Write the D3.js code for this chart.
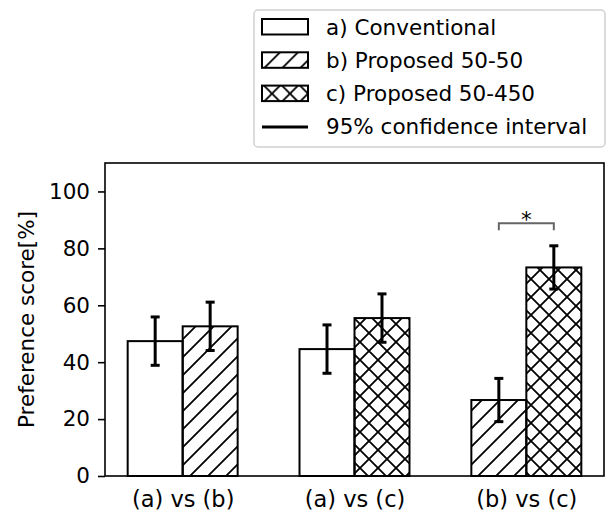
<!DOCTYPE html>
<html>
<head>
<meta charset="utf-8">
<script src="https://cdn.jsdelivr.net/npm/d3@7"></script>
<style>
  body { margin: 0; background: #fff; }
  text { font-family: "DejaVu Sans", sans-serif; }
</style>
</head>
<body>
<svg id="chart" width="608" height="513"></svg>
<script>
// comparisons on the x axis
const groups = ["(a) vs (b)", "(a) vs (c)", "(b) vs (c)"];
// left and right bar of each pair
const leftValues = [47.4, 44.6, 26.7];
const rightValues = [52.6, 55.5, 73.3];
const leftKinds = ["a", "a", "b"];
const rightKinds = ["b", "c", "c"];
// half width of the 95% confidence interval
const ciHalf = [8.5, 8.5, 7.6];
const yTicks = [0, 20, 40, 60, 80, 100];
const legendLabels = ["a) Conventional", "b) Proposed 50-50", "c) Proposed 50-450", "95% confidence interval"];
const legendKinds = ["a", "b", "c", "line"];

const svg = d3.select("#chart");
const margin = { top: 163, right: 4, bottom: 37, left: 105 };
const W = 608, H = 513;
const barW = 0.32;
const fontSize = "21.5px";

const x = d3.scaleLinear().domain([-0.452, 2.452]).range([margin.left, W - margin.right]);
const y = d3.scaleLinear().domain([0, 110]).range([H - margin.bottom, margin.top]);

// hatch patterns
const defs = svg.append("defs");
const diag = defs.append("pattern")
    .attr("id", "hatch-b")
    .attr("patternUnits", "userSpaceOnUse")
    .attr("width", 18).attr("height", 18);
diag.append("path")
    .attr("d", "M-2,20 L20,-2 M-9,9 L9,-9 M9,27 L27,9")
    .attr("stroke", "#000").attr("stroke-width", 1.8);

const cross = defs.append("pattern")
    .attr("id", "hatch-c")
    .attr("patternUnits", "userSpaceOnUse")
    .attr("width", 18).attr("height", 18);
cross.append("path")
    .attr("d", "M-2,20 L20,-2 M-9,9 L9,-9 M9,27 L27,9 M-2,-2 L20,20 M-9,9 L9,27 M9,-9 L27,9")
    .attr("stroke", "#000").attr("stroke-width", 1.8);

const fillFor = k => k === "a" ? "#fff" : `url(#hatch-${k})`;

// bars
const bars = [];
groups.forEach((g, i) => {
    bars.push({ pos: i - barW / 2, value: leftValues[i], kind: leftKinds[i], ci: ciHalf[i] });
    bars.push({ pos: i + barW / 2, value: rightValues[i], kind: rightKinds[i], ci: ciHalf[i] });
});

svg.selectAll("rect.bar")
    .data(bars)
    .enter()
    .append("rect")
    .attr("class", "bar")
    .attr("x", d => x(d.pos - barW / 2))
    .attr("y", d => y(d.value))
    .attr("width", d => x(d.pos + barW / 2) - x(d.pos - barW / 2))
    .attr("height", d => y(0) - y(d.value))
    .attr("fill", d => fillFor(d.kind))
    .attr("stroke", "#000")
    .attr("stroke-width", 2);

// error bars
const capHalf = 4.5;
const err = svg.selectAll("g.err").data(bars).enter().append("g").attr("class", "err");
err.append("line")
    .attr("x1", d => x(d.pos)).attr("x2", d => x(d.pos))
    .attr("y1", d => y(d.value - d.ci)).attr("y2", d => y(d.value + d.ci))
    .attr("stroke", "#000").attr("stroke-width", 3);
err.append("line")
    .attr("x1", d => x(d.pos) - capHalf).attr("x2", d => x(d.pos) + capHalf)
    .attr("y1", d => y(d.value + d.ci)).attr("y2", d => y(d.value + d.ci))
    .attr("stroke", "#000").attr("stroke-width", 3);
err.append("line")
    .attr("x1", d => x(d.pos) - capHalf).attr("x2", d => x(d.pos) + capHalf)
    .attr("y1", d => y(d.value - d.ci)).attr("y2", d => y(d.value - d.ci))
    .attr("stroke", "#000").attr("stroke-width", 3);

// significance bracket over (b) vs (c)
const bx1 = x(2 - barW / 2), bx2 = x(2 + barW / 2);
const by = y(88.8);
svg.append("path")
    .attr("d", `M${bx1},${by + 7}V${by}H${bx2}V${by + 7}`)
    .attr("fill", "none").attr("stroke", "#666").attr("stroke-width", 2);
svg.append("text")
    .attr("x", x(2)).attr("y", by + 4)
    .attr("text-anchor", "middle")
    .attr("fill", "#000")
    .style("font-size", fontSize)
    .text("*");

// axes
const yAxis = svg.append("g")
    .attr("transform", `translate(${margin.left},0)`)
    .call(d3.axisLeft(y).tickValues(yTicks).tickSize(7).tickPadding(8));
yAxis.select(".domain").remove();
yAxis.selectAll("line").attr("stroke-width", 1.6);
yAxis.selectAll("text").style("font-size", fontSize).style("font-family", "DejaVu Sans").attr("fill", "#000");

const xAxis = svg.append("g")
    .attr("transform", `translate(0,${y(0)})`)
    .call(d3.axisBottom(x).tickValues([0, 1, 2]).tickFormat(i => groups[i]).tickSize(0).tickPadding(15));
xAxis.select(".domain").remove();
xAxis.selectAll("text").style("font-size", "22.5px").style("font-family", "DejaVu Sans").attr("fill", "#000");

// frame
svg.append("rect")
    .attr("x", margin.left).attr("y", margin.top)
    .attr("width", W - margin.right - margin.left)
    .attr("height", H - margin.bottom - margin.top)
    .attr("fill", "none").attr("stroke", "#000").attr("stroke-width", 1.6);

svg.append("text")
    .attr("transform", `translate(28,${(margin.top + H - margin.bottom) / 2}) rotate(-90)`)
    .attr("text-anchor", "middle")
    .attr("dominant-baseline", "middle")
    .style("font-size", fontSize)
    .text("Preference score[%]");

// legend
const lg = svg.append("g").attr("transform", "translate(254,10)");
lg.append("rect")
    .attr("width", 351).attr("height", 137)
    .attr("rx", 4)
    .attr("fill", "#fff").attr("stroke", "#d0d0d0").attr("stroke-width", 1.5);
const rows = lg.selectAll("g.row")
    .data(legendLabels)
    .enter().append("g")
    .attr("class", "row")
    .attr("transform", (d, i) => `translate(0,${17 + i * 33.3})`);
rows.filter((d, i) => legendKinds[i] !== "line")
    .append("rect")
    .attr("x", 8).attr("y", -8).attr("width", 46).attr("height", 15.5)
    .attr("fill", d => fillFor(legendKinds[legendLabels.indexOf(d)]))
    .attr("stroke", "#000").attr("stroke-width", 2);
rows.filter((d, i) => legendKinds[i] === "line")
    .append("line")
    .attr("x1", 8).attr("x2", 54)
    .attr("stroke", "#000").attr("stroke-width", 3);
rows.append("text")
    .attr("x", 72).attr("y", 0)
    .attr("dominant-baseline", "central")
    .style("font-size", fontSize)
    .text(d => d);
</script>
</body>
</html>
